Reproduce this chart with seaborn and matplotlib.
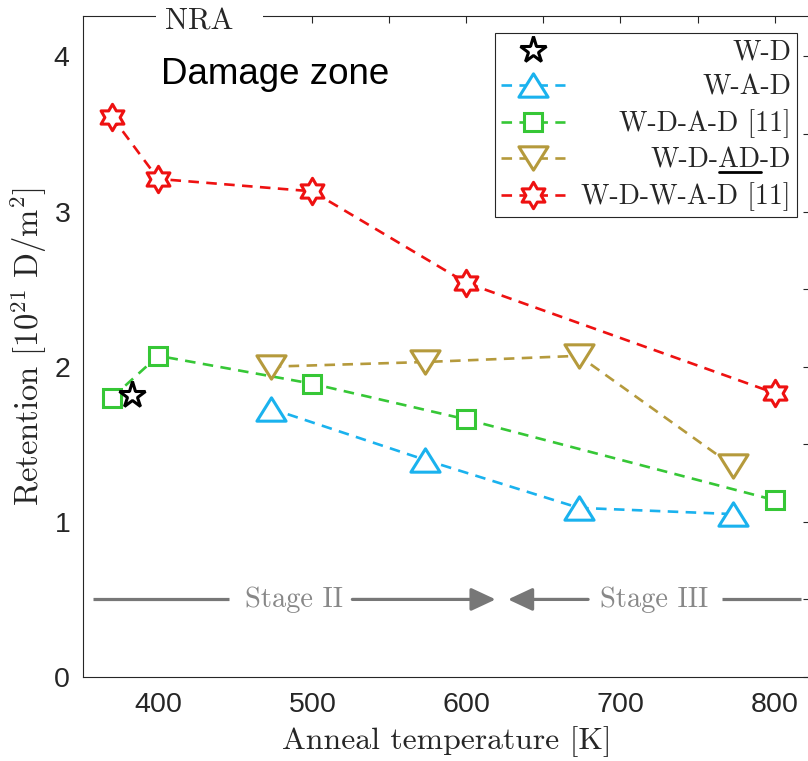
import numpy as np
import pandas as pd
import matplotlib
matplotlib.use("Agg")
import matplotlib.pyplot as plt
import seaborn as sns
from matplotlib.path import Path
from matplotlib.ticker import MultipleLocator
from matplotlib.lines import Line2D

# ---------------- data ----------------
wd_T = [383]
wd_R = [1.82]
wad_T = [473, 573, 673, 773]
wad_R = [1.73, 1.40, 1.09, 1.05]
wdad_T = [370, 400, 500, 600, 800]
wdad_R = [1.80, 2.07, 1.89, 1.66, 1.14]
wdadd_T = [473, 573, 673, 773]
wdadd_R = [2.00, 2.03, 2.07, 1.36]
wdwad_T = [370, 400, 500, 600, 800]
wdwad_R = [3.61, 3.21, 3.13, 2.54, 1.83]
series_labels = ["W-D", "W-A-D", "W-D-A-D [11]", "W-D-AD-D", "W-D-W-A-D [11]"]
x_ticks = [400, 500, 600, 700, 800]
y_ticks = [0, 1, 2, 3, 4]
stage_labels = ["Stage II", "Stage III"]
stage_y = 0.5
stage2_line = [358, 446]
stage2_arrow = [526, 619]
stage3_arrow = [679, 627]
stage3_line = [766, 817]
stage_text_x = [488, 722]

# ---------------- style ----------------
sns.set_theme(style="white")
plt.rcParams["font.family"] = ["Liberation Sans", "DejaVu Sans"]
plt.rcParams["mathtext.fontset"] = "cm"
plt.rcParams["axes.unicode_minus"] = False
plt.rcParams["axes.formatter.use_mathtext"] = True

C_CYAN = "#1AB2EE"
C_GREEN = "#36C736"
C_GOLD = "#B59A3C"
C_RED = "#EE1111"
C_GRAY = "#777777"
SERIF = "cmr10"

# custom marker shapes
ang = np.deg2rad(90 + 30 * np.arange(12))
rad = np.where(np.arange(12) % 2 == 0, 1.0, 1 / np.sqrt(3))
hv = np.column_stack([rad * np.cos(ang), rad * np.sin(ang)])
HEXAGRAM = Path(np.vstack([hv, hv[:1]]), [Path.MOVETO] + [Path.LINETO] * 11 + [Path.CLOSEPOLY])
TRI_UP = Path([(0, 0.8), (-1, -0.8), (1, -0.8), (0, 0.8)],
              [Path.MOVETO, Path.LINETO, Path.LINETO, Path.CLOSEPOLY])
TRI_DN = Path([(0, -0.8), (-1, 0.8), (1, 0.8), (0, -0.8)],
              [Path.MOVETO, Path.LINETO, Path.LINETO, Path.CLOSEPOLY])

fig = plt.figure(figsize=(8.08, 7.61), dpi=100)
ax = fig.add_axes([82.7 / 808, 84 / 761, (810 - 82.7) / 808, 661 / 761])

DASH = (0, (4, 2.8))
common = dict(ax=ax, errorbar=None, linewidth=1.9, markerfacecolor="white",
              markeredgewidth=2.2, sort=False)

sns.lineplot(x=wad_T, y=wad_R, color=C_CYAN, marker=TRI_UP, markersize=21,
             markeredgecolor=C_CYAN, linestyle=DASH, label=series_labels[1], zorder=3, **common)
sns.lineplot(x=wdad_T, y=wdad_R, color=C_GREEN, marker="s", markersize=12.6,
             markeredgecolor=C_GREEN, linestyle=DASH, label=series_labels[2], zorder=3, **common)
sns.lineplot(x=wdadd_T, y=wdadd_R, color=C_GOLD, marker=TRI_DN, markersize=21,
             markeredgecolor=C_GOLD, linestyle=DASH, label=series_labels[3], zorder=3, **common)
sns.lineplot(x=wdwad_T, y=wdwad_R, color=C_RED, marker=HEXAGRAM, markersize=19,
             markeredgecolor=C_RED, linestyle=DASH, label=series_labels[4], zorder=3, **common)
sns.lineplot(x=wd_T, y=wd_R, color="black", marker="*", markersize=20,
             markeredgecolor="black", linestyle="none", label=series_labels[0], zorder=5, **common)

ax.set_xlim(351, 823)
ax.set_ylim(0, 4.26)
ax.set_xticks(x_ticks)
ax.set_yticks(y_ticks)
ax.xaxis.set_minor_locator(MultipleLocator(50))
ax.yaxis.set_minor_locator(MultipleLocator(0.5))
ax.tick_params(which="both", direction="in", top=True, right=True, length=5,
               width=0.8, color="#262626")
ax.tick_params(which="major", labelsize=20.5, pad=9, labelcolor="#262626")
ax.tick_params(axis="x", which="major", pad=11)
for s in ax.spines.values():
    s.set_color("#262626")
    s.set_linewidth(0.8)

ax.set_xlabel("Anneal temperature [K]", family=SERIF, fontsize=22.8, color="#262626", labelpad=6)
ax.set_ylabel(r"Retention $[10^{21}\ \mathrm{D/m^2}]$", family=SERIF, fontsize=23.5,
              color="#262626", labelpad=3)

# texts
ax.text(402, 3.82, "Damage zone", fontsize=26.5, color="black", ha="left", va="baseline")
ax.text((165 - 82.7) / 727.3, 1 - 14 / 661, "NRA  ", transform=ax.transAxes, family=SERIF,
        fontsize=22, color="#262626", ha="left", va="baseline", zorder=10, clip_on=False,
        bbox=dict(boxstyle="square,pad=0.3", fc="white", ec="none"))

# stage annotations
ax.plot(stage2_line, [stage_y, stage_y], color=C_GRAY, lw=2.3, solid_capstyle="butt")
ax.plot(stage3_line, [stage_y, stage_y], color=C_GRAY, lw=2.3, solid_capstyle="butt")
for seg in (stage2_arrow, stage3_arrow):
    ax.annotate("", xy=(seg[1], stage_y), xytext=(seg[0], stage_y),
                arrowprops=dict(arrowstyle="-|>,head_length=0.75,head_width=0.35",
                                color=C_GRAY, lw=2.3, shrinkA=0, shrinkB=0,
                                mutation_scale=20))
for lab, xt in zip(stage_labels, stage_text_x):
    ax.text(xt, stage_y, lab, family=SERIF, fontsize=20.5, color="#888888",
            ha="center", va="center")

# legend (order as in reference)
handles, labs = ax.get_legend_handles_labels()
hmap = dict(zip(labs, handles))
leg = ax.legend([hmap[l] for l in series_labels], series_labels, loc="upper right",
                bbox_to_anchor=((797 - 82.7) / 727.3, (677 - 33) / 661), borderaxespad=0,
                prop={"family": SERIF, "size": 20}, frameon=True, fancybox=False,
                edgecolor="#262626", framealpha=1, handlelength=2.3, handletextpad=0.6,
                labelspacing=0.32, borderpad=0.22)
leg.get_frame().set_linewidth(0.8)
leg.set_zorder(20)

fig.canvas.draw()
renderer = fig.canvas.get_renderer()
texts = leg.get_texts()
widths = [t.get_window_extent(renderer).width for t in texts]
wmax = max(widths)
for t, w in zip(texts, widths):
    t.set_position((wmax - w, 0))
fig.canvas.draw()

# underline "AD" in the W-D-AD-D label
t = texts[3]
bb = t.get_window_extent(renderer)
prop = t.get_fontproperties()
w_full, _, _ = renderer.get_text_width_height_descent("W-D-AD-D", prop, ismath=False)
w_pre, _, _ = renderer.get_text_width_height_descent("W-D-", prop, ismath=False)
w_ad, _, _ = renderer.get_text_width_height_descent("W-D-AD", prop, ismath=False)
x0 = bb.x1 - w_full + w_pre
x1 = bb.x1 - w_full + w_ad
baseline = t.get_transform().transform(t.get_position())[1]
yline = baseline - 4
W, H = fig.bbox.width, fig.bbox.height
fig.add_artist(Line2D([x0 / W, x1 / W], [yline / H, yline / H], color="black", lw=2.0,
                      transform=fig.transFigure, zorder=30))

fig.savefig("out.png", dpi=100)
